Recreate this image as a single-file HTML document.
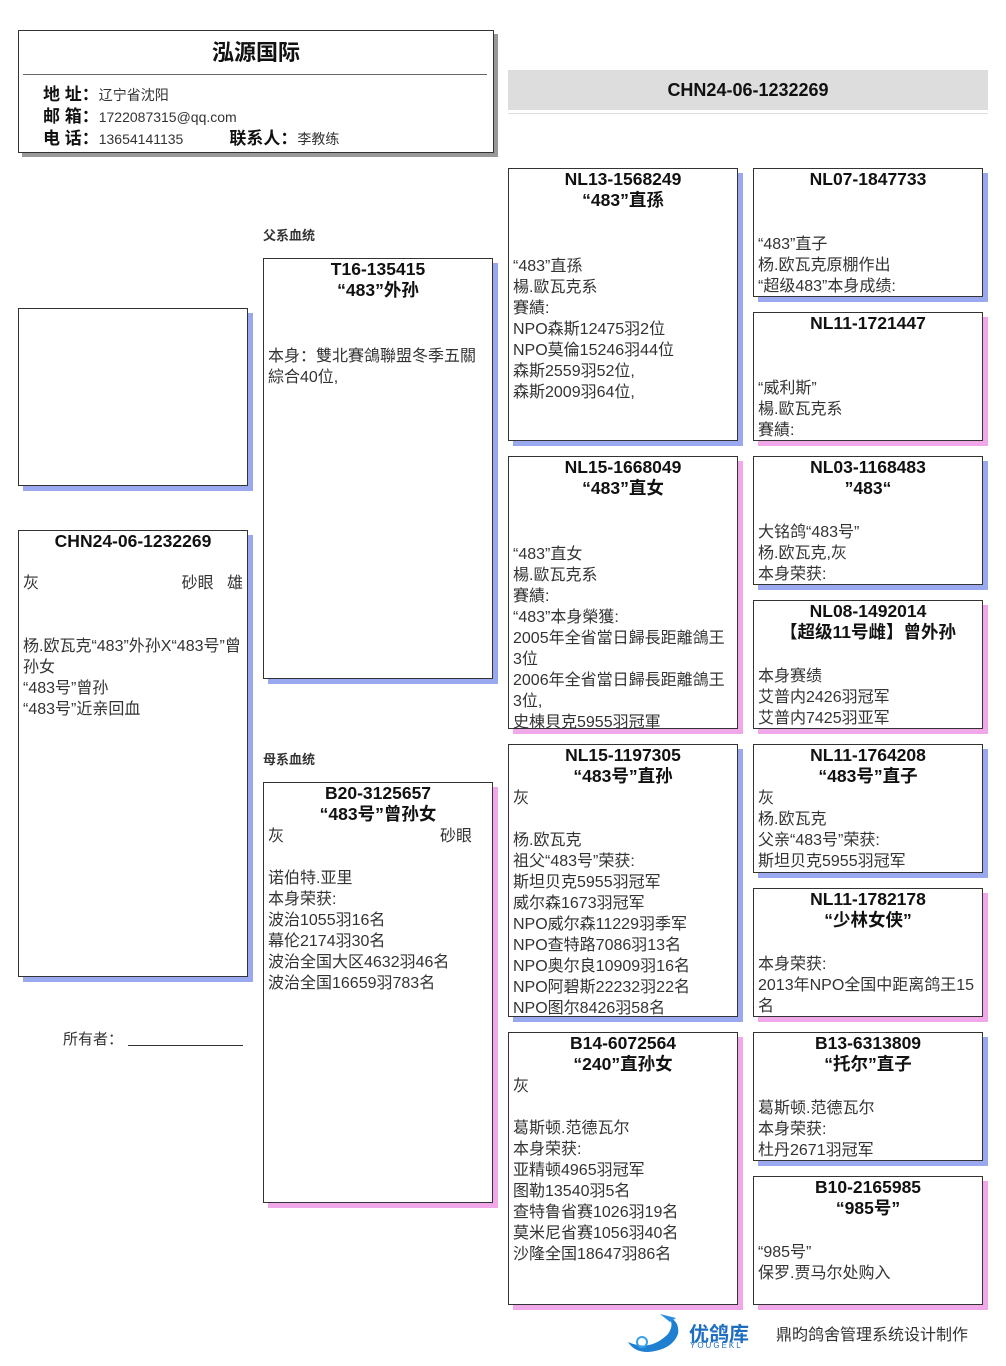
<!DOCTYPE html>
<html><head><meta charset="utf-8"><style>
body{margin:0;width:1006px;height:1366px;background:#fff;position:relative;font-family:"Liberation Sans","Noto Sans CJK SC",sans-serif;color:#222;overflow:hidden}
.a{position:absolute}
.box{position:absolute;border:1px solid #333;background:#fff;overflow:hidden;box-sizing:border-box}
.m{box-shadow:5px 5px 0 #9aa8f0}
.f{box-shadow:5px 5px 0 #f0a8e8}
.t{position:absolute;left:0;right:0;text-align:center;font-weight:bold;font-size:17.5px;line-height:21px;color:#111;white-space:nowrap}
.b{position:absolute;left:4px;right:4px;font-size:16px;line-height:21px;color:#333}
.lab{font-weight:bold;font-size:17px;color:#111}
.v{font-size:14px;color:#333}
</style></head><body>

<div class="box" style="left:18px;top:30px;width:476px;height:123px;box-shadow:4px 4px 0 #999"></div>
<div class="a" style="left:18px;top:35px;width:476px;text-align:center;font-weight:bold;font-size:22px;color:#111">泓源国际</div>
<div class="a" style="left:23px;top:74px;width:464px;height:1px;background:#666"></div>
<div class="a" style="left:43px;top:84px;line-height:21px">
<div><span class="lab">地 址：</span><span class="v">辽宁省沈阳</span></div>
<div><span class="lab">邮 箱：</span><span class="v">1722087315@qq.com</span></div>
<div><span class="lab">电 话：</span><span class="v">13654141135</span><span class="lab" style="margin-left:46px">联系人：</span><span class="v">李教练</span></div>
</div>

<div class="a" style="left:508px;top:70px;width:480px;height:40px;background:#ddd;text-align:center;line-height:40px;font-weight:bold;font-size:18px;color:#111">CHN24-06-1232269</div>
<div class="a" style="left:508px;top:113px;width:480px;height:1px;background:#ddd"></div>

<div class="box m" style="left:18px;top:308px;width:230px;height:178px"></div>

<div class="box m" style="left:18px;top:530px;width:230px;height:447px">
<div class="t" style="top:0">CHN24-06-1232269</div>
<div class="b" style="top:42px">灰<span style="position:absolute;right:0">砂眼&nbsp;&nbsp;&nbsp;雄</span><br><br><br>杨.欧瓦克“483”外孙X“483号”曾孙女<br>“483号”曾孙<br>“483号”近亲回血</div>
</div>
<div class="a" style="left:63px;top:1028px;font-size:15px;color:#333">所有者：</div>
<div class="a" style="left:128px;top:1045px;width:115px;height:1px;background:#333"></div>

<div class="a" style="left:263px;top:225px;font-size:13px;font-weight:bold;color:#333">父系血统</div>
<div class="box m" style="left:263px;top:258px;width:230px;height:421px">
<div class="t" style="top:0">T16-135415</div><div class="t" style="top:21px">“483”外孙</div>
<div class="b" style="top:87px">本身：雙北賽鴿聯盟冬季五關綜合40位,</div>
</div>
<div class="a" style="left:263px;top:749px;font-size:13px;font-weight:bold;color:#333">母系血统</div>
<div class="box f" style="left:263px;top:782px;width:230px;height:421px">
<div class="t" style="top:0">B20-3125657</div><div class="t" style="top:21px">“483号”曾孙女</div>
<div class="b" style="top:43px">灰<span style="position:absolute;right:16px">砂眼</span><br><br>诺伯特.亚里<br>本身荣获:<br>波治1055羽16名<br>幕伦2174羽30名<br>波治全国大区4632羽46名<br>波治全国16659羽783名</div>
</div>

<div class="box m" style="left:508px;top:168px;width:230px;height:273px">
<div class="t" style="top:0">NL13-1568249</div><div class="t" style="top:21px">“483”直孫</div>
<div class="b" style="top:87px">“483”直孫<br>楊.歐瓦克系<br>賽績:<br>NPO森斯12475羽2位<br>NPO莫倫15246羽44位<br>森斯2559羽52位,<br>森斯2009羽64位,</div></div>
<div class="box f" style="left:508px;top:456px;width:230px;height:273px">
<div class="t" style="top:0">NL15-1668049</div><div class="t" style="top:21px">“483”直女</div>
<div class="b" style="top:87px">“483”直女<br>楊.歐瓦克系<br>賽績:<br>“483”本身榮獲:<br>2005年全省當日歸長距離鴿王3位<br>2006年全省當日歸長距離鴿王3位,<br>史棟貝克5955羽冠軍</div></div>
<div class="box m" style="left:508px;top:744px;width:230px;height:273px">
<div class="t" style="top:0">NL15-1197305</div><div class="t" style="top:21px">“483号”直孙</div>
<div class="b" style="top:43px">灰<br><br>杨.欧瓦克<br>祖父“483号”荣获:<br>斯坦贝克5955羽冠军<br>威尔森1673羽冠军<br>NPO威尔森11229羽季军<br>NPO查特路7086羽13名<br>NPO奥尔良10909羽16名<br>NPO阿碧斯22232羽22名<br>NPO图尔8426羽58名</div></div>
<div class="box f" style="left:508px;top:1032px;width:230px;height:273px">
<div class="t" style="top:0">B14-6072564</div><div class="t" style="top:21px">“240”直孙女</div>
<div class="b" style="top:43px">灰<br><br>葛斯顿.范德瓦尔<br>本身荣获:<br>亚精顿4965羽冠军<br>图勒13540羽5名<br>查特鲁省赛1026羽19名<br>莫米尼省赛1056羽40名<br>沙隆全国18647羽86名</div></div>

<div class="box m" style="left:753px;top:168px;width:230px;height:129px">
<div class="t" style="top:0">NL07-1847733</div>
<div class="b" style="top:65px">“483”直子<br>杨.欧瓦克原棚作出<br>“超级483”本身成绩:</div></div>
<div class="box f" style="left:753px;top:312px;width:230px;height:129px">
<div class="t" style="top:0">NL11-1721447</div>
<div class="b" style="top:65px">“威利斯”<br>楊.歐瓦克系<br>賽績:</div></div>
<div class="box m" style="left:753px;top:456px;width:230px;height:129px">
<div class="t" style="top:0">NL03-1168483</div><div class="t" style="top:21px">”483“</div>
<div class="b" style="top:65px">大铭鸽“483号”<br>杨.欧瓦克,灰<br>本身荣获:</div></div>
<div class="box f" style="left:753px;top:600px;width:230px;height:129px">
<div class="t" style="top:0">NL08-1492014</div><div class="t" style="top:21px">【超级11号雌】曾外孙</div>
<div class="b" style="top:65px">本身赛绩<br>艾普内2426羽冠军<br>艾普内7425羽亚军</div></div>
<div class="box m" style="left:753px;top:744px;width:230px;height:129px">
<div class="t" style="top:0">NL11-1764208</div><div class="t" style="top:21px">“483号”直子</div>
<div class="b" style="top:43px">灰<br>杨.欧瓦克<br>父亲“483号”荣获:<br>斯坦贝克5955羽冠军</div></div>
<div class="box f" style="left:753px;top:888px;width:230px;height:129px">
<div class="t" style="top:0">NL11-1782178</div><div class="t" style="top:21px">“少林女侠”</div>
<div class="b" style="top:65px">本身荣获:<br>2013年NPO全国中距离鸽王15名</div></div>
<div class="box m" style="left:753px;top:1032px;width:230px;height:129px">
<div class="t" style="top:0">B13-6313809</div><div class="t" style="top:21px">“托尔”直子</div>
<div class="b" style="top:65px">葛斯顿.范德瓦尔<br>本身荣获:<br>杜丹2671羽冠军</div></div>
<div class="box f" style="left:753px;top:1176px;width:230px;height:129px">
<div class="t" style="top:0">B10-2165985</div><div class="t" style="top:21px">“985号”</div>
<div class="b" style="top:65px">“985号”<br>保罗.贾马尔处购入</div></div>

<svg class="a" style="left:620px;top:1312px" width="70" height="42" viewBox="0 0 70 42">
<path d="M8 30 Q30 40 48 22 Q56 10 46 4 Q60 8 58 22 Q52 38 28 40 Q14 40 8 30Z" fill="#1f7fd0"/>
<path d="M40 2 L56 6 L50 10Z" fill="#2a8ee0"/>
<circle cx="22" cy="30" r="5" fill="none" stroke="#3aa0e8" stroke-width="2"/>
</svg>
<div class="a" style="left:689px;top:1318px;font-weight:bold;font-size:20px;color:#1f6fc0">优鸽库</div>
<div class="a" style="left:690px;top:1341px;font-size:8px;color:#1f6fc0;letter-spacing:2px">YOUGEKL</div>
<div class="a" style="left:776px;top:1321px;font-size:16px;color:#333">鼎昀鸽舍管理系统设计制作</div>
</body></html>
